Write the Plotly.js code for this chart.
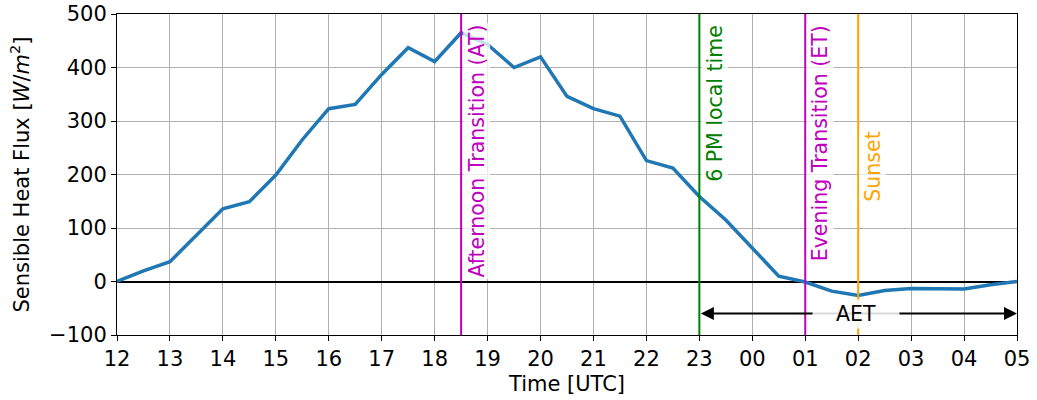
<!DOCTYPE html>
<html>
<head>
<meta charset="utf-8">
<script src="https://cdn.plot.ly/plotly-3.0.1.min.js"></script>
<style>
  html, body { margin: 0; padding: 0; background: #ffffff; }
  #chart { width: 1037px; height: 400px; }
</style>
</head>
<body>
<div id="chart"></div>
<script>
// Half-hourly sensible heat flux, 12 UTC to 05 UTC next day (hours past 24 wrap to the next day)
const hoursUTC = [12, 12.5, 13, 13.5, 14, 14.5, 15, 15.5, 16, 16.5, 17, 17.5, 18, 18.5,
                  19, 19.5, 20, 20.5, 21, 21.5, 22, 22.5, 23, 23.5, 24, 24.5, 25, 25.5,
                  26, 26.5, 27, 27.5, 28, 28.5, 29];
const sensibleHeatFlux = [0, 20, 37, 86, 136, 149, 199, 265, 323, 331, 387, 437, 411, 465,
                          443, 400, 420, 346, 323, 309, 226, 212, 159, 115, 63, 10, -1, -18,
                          -26, -17, -13, -13, -14, -6, 0];

// Axis ticks
const xTickVals = [12, 13, 14, 15, 16, 17, 18, 19, 20, 21, 22, 23, 24, 25, 26, 27, 28, 29];
const xTickText = ['12', '13', '14', '15', '16', '17', '18', '19', '20', '21', '22', '23',
                   '00', '01', '02', '03', '04', '05'];
const yTickVals = [-100, 0, 100, 200, 300, 400, 500];
const yTickText = ['\u2212100', '0', '100', '200', '300', '400', '500'];

// Event markers
const eventNames = ['Afternoon Transition (AT)', '6 PM local time', 'Evening Transition (ET)', 'Sunset'];
const eventTimes = [18.5, 23, 25, 26];
const eventColors = ['#bf00bf', '#008000', '#bf00bf', '#ffa500'];

// Afternoon-to-evening transition period (AET)
const aetLabel = 'AET';
const aetStart = 23;
const aetEnd = 29;
const aetLevel = -60;

const FONT = 'DejaVu Sans, sans-serif';

// Vertical event lines, drawn over the grid
const shapes = eventTimes.map((t, i) => ({
  type: 'line', xref: 'x', yref: 'paper', x0: t, x1: t, y0: 0, y1: 1,
  line: { color: eventColors[i], width: 2 }, layer: 'above'
}));

// Rotated labels next to each event line; the sunset label sits lower down
const labelY = [1, 1, 1, null];
const annotations = eventNames.map((name, i) => {
  const a = {
    text: name, xref: 'x', x: eventTimes[i], xanchor: 'left', xshift: 1,
    textangle: -90, showarrow: false,
    font: { family: FONT, size: 20.5, color: eventColors[i] },
    bgcolor: 'rgba(255,255,255,0.75)', borderpad: 1
  };
  if (labelY[i] === null) {
    a.yref = 'y'; a.y = 215; a.yanchor = 'middle';
  } else {
    a.yref = 'paper'; a.y = labelY[i]; a.yanchor = 'top'; a.yshift = -9;
  }
  return a;
});

// Double-headed arrow spanning the AET window
annotations.push({
  xref: 'x', yref: 'y', axref: 'x', ayref: 'y',
  x: aetEnd, y: aetLevel, ax: aetStart, ay: aetLevel,
  text: '', showarrow: true, arrowside: 'end+start',
  arrowhead: 2, startarrowhead: 2, arrowsize: 1.3, startarrowsize: 1.3,
  arrowwidth: 2, arrowcolor: '#000000', standoff: 0, startstandoff: 0
});
annotations.push({
  text: aetLabel, xref: 'x', yref: 'y', x: 25.95, y: aetLevel,
  xanchor: 'center', yanchor: 'middle', showarrow: false,
  font: { family: FONT, size: 20.5, color: '#000000' },
  bgcolor: 'rgba(255,255,255,0.85)', borderpad: 2, width: 82
});

const trace = {
  x: hoursUTC, y: sensibleHeatFlux, type: 'scatter', mode: 'lines',
  line: { color: '#1f77b4', width: 3.5 }, hoverinfo: 'skip'
};

const layout = {
  width: 1037, height: 400,
  margin: { l: 117, r: 20, t: 14, b: 65, pad: 0 },
  paper_bgcolor: '#ffffff', plot_bgcolor: '#ffffff',
  font: { family: FONT, size: 21, color: '#000000' },
  showlegend: false,
  xaxis: {
    range: [12, 29], tickmode: 'array', tickvals: xTickVals, ticktext: xTickText,
    showgrid: true, gridcolor: '#b0b0b0', gridwidth: 1,
    showline: true, mirror: true, linecolor: '#000000', linewidth: 1,
    ticks: 'outside', ticklen: 5, tickwidth: 1, tickcolor: '#000000',
    tickfont: { family: FONT, size: 21, color: '#000000' },
    zeroline: false,
    title: { text: 'Time [UTC]', font: { family: FONT, size: 21, color: '#000000' }, standoff: 6 }
  },
  yaxis: {
    range: [-100, 500], tickmode: 'array', tickvals: yTickVals, ticktext: yTickText,
    showgrid: true, gridcolor: '#b0b0b0', gridwidth: 1,
    showline: true, mirror: true, linecolor: '#000000', linewidth: 1,
    ticks: 'outside', ticklen: 5, tickwidth: 1, tickcolor: '#000000',
    tickfont: { family: FONT, size: 21, color: '#000000' },
    zeroline: true, zerolinecolor: '#000000', zerolinewidth: 2,
    title: { text: 'Sensible Heat Flux [<i>W</i>/<i>m</i><sup>2</sup>]',
             font: { family: FONT, size: 21, color: '#000000' }, standoff: 13 }
  },
  shapes: shapes,
  annotations: annotations
};

Plotly.newPlot('chart', [trace], layout, { staticPlot: true, displayModeBar: false });
</script>
</body>
</html>
